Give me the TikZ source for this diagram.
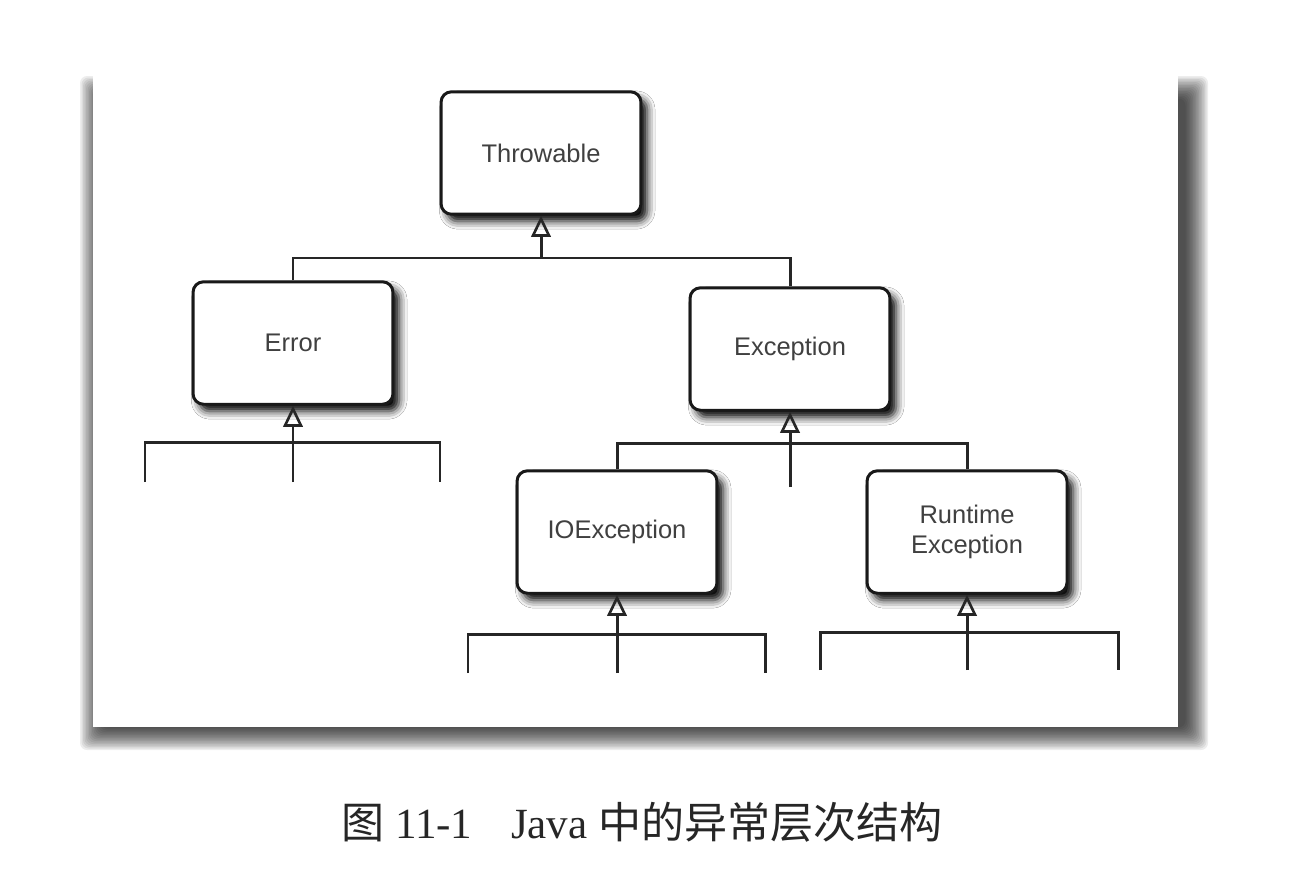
\documentclass[tikz,border=0pt]{standalone}
\usepackage{fontspec}
\setmainfont{Liberation Serif}
\newfontfamily\boxfont{Liberation Sans}
\newfontfamily\cjk{Noto Sans CJK SC}
\usetikzlibrary{arrows.meta,shadows.blur}
\begin{document}
\begin{tikzpicture}[x=0.02cm,y=-0.02cm,
  cls/.style={draw=black!90, line width=1.7pt, rounded corners=6pt, fill=white,
    minimum width=4.0cm, minimum height=2.45cm, align=center,
    font=\boxfont\fontsize{14.5}{17.5}\selectfont, text=black!75,
    blur shadow={shadow xshift=3.5pt, shadow yshift=-4pt, shadow blur radius=4.5pt, shadow opacity=100}},
  link/.style={line width=1.7pt, draw=black!85},
  inh/.style={link, -{Triangle[open, length=12pt, width=11pt, line width=1.5pt]}},
]
\useasboundingbox (0,0) rectangle (1298,886);
% panel with shadow
\foreach \k in {0,...,15}
  \fill[black,opacity=0.07,rounded corners=4pt] ({80+1.5*\k},{76+1.5*\k}) rectangle ({1208-1.5*\k},{750-1.5*\k});
\fill[white] (93,73) rectangle (1178,727);

% classes
\node[cls] (throwable) at (541,153) {Throwable};
\node[cls] (error) at (293,343) {Error};
\node[cls] (exception) at (790,349) {Exception};
\node[cls] (ioexc) at (617,532) {IOException};
\node[cls] (runtime) at (967,532) {Runtime\\Exception};

% junction coordinates
\coordinate (tb) at (541,258);
\coordinate (eb) at (293,442);
\coordinate (eL) at (145,482);
\coordinate (eR) at (440,482);
\coordinate (eM) at (293,482);
\coordinate (xb) at (790,443);
\coordinate (xM) at (790,487);
\coordinate (ib) at (617,634);
\coordinate (iL) at (468,673);
\coordinate (iR) at (765,673);
\coordinate (iM) at (617,673);
\coordinate (rb) at (967,632);
\coordinate (rL) at (820,670);
\coordinate (rR) at (1118,670);
\coordinate (rM) at (967,670);

% connectors
\draw[link] (error.north) |- (tb) -| (exception.north);
\draw[inh] (tb) -- (throwable.south);
\draw[link] (eL) |- (eb) -| (eR);
\draw[inh] (eM) -- (error.south);
\draw[link] (ioexc.north) |- (xb) -| (runtime.north);
\draw[inh] (xM) -- (exception.south);
\draw[link] (iL) |- (ib) -| (iR);
\draw[inh] (iM) -- (ioexc.south);
\draw[link] (rL) |- (rb) -| (rR);
\draw[inh] (rM) -- (runtime.south);

% caption
\node[text=black!85, font=\fontsize{24.5}{29}\selectfont] (cap) at (642,822)
  {{\cjk 图}\ 11-1\hspace{0.9em}Java\ {\cjk 中的异常层次结构}};
\end{tikzpicture}
\end{document}
